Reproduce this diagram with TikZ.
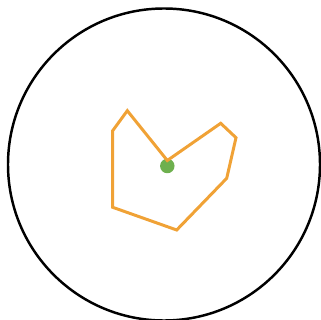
\documentclass[tikz,border=0pt]{standalone}
\usepackage{tikz}
\usepackage{xcolor}
\definecolor{path}{HTML}{F0A236}
\definecolor{seed}{HTML}{6EB04E}

\begin{document}
\begin{tikzpicture}[
  x=0.02cm, y=-0.02cm,
  boundary/.style={draw=black, line width=1.4pt},
  walk/.style={draw=path, line width=1.7pt, line join=miter},
  origin/.style={circle, fill=seed, inner sep=0pt, minimum size=0.29cm},
]
  \useasboundingbox (0, 0) rectangle (321, 320);

  \draw[boundary] (164, 164.5) circle (156);

  \coordinate (p0) at (167.3, 160.5);
  \coordinate (p1) at (127.3, 110.7);
  \coordinate (p2) at (112.7, 130.7);
  \coordinate (p3) at (112.7, 207.3);
  \coordinate (p4) at (176.7, 230.0);
  \coordinate (p5) at (226.7, 178.3);
  \coordinate (p6) at (236.0, 137.7);
  \coordinate (p7) at (220.7, 123.3);

  \node[origin] (o) at (167.3, 166) {};

  \draw[walk] (p0) -- (p1) -- (p2) -- (p3) -- (p4) -- (p5) -- (p6) -- (p7) -- cycle;
\end{tikzpicture}
\end{document}
